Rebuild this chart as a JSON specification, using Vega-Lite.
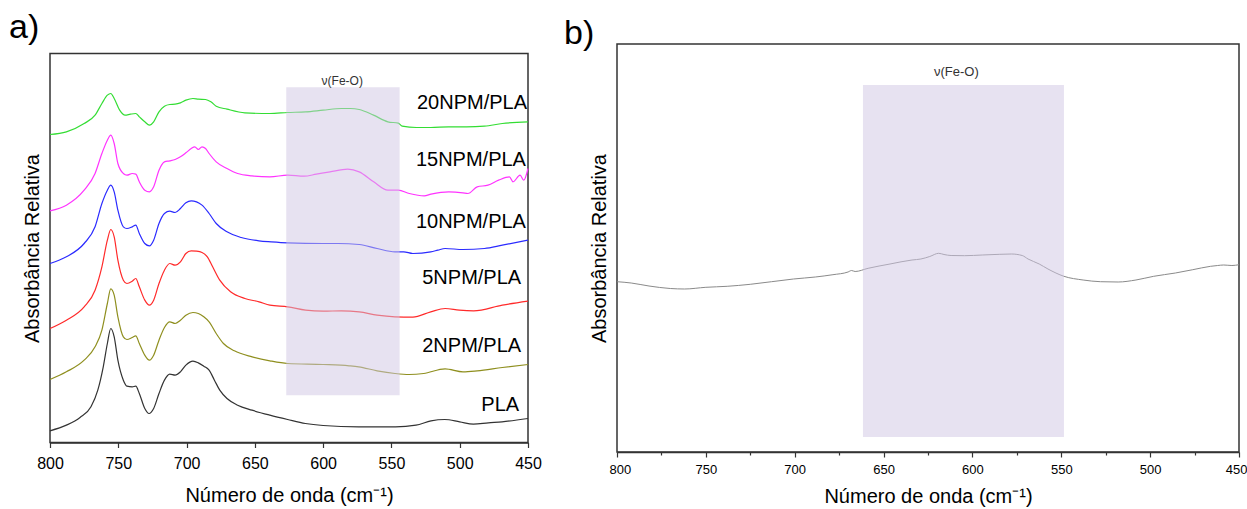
{
  "$schema": "https://vega.github.io/schema/vega-lite/v6.json",
  "padding": {"left": 8, "top": 9, "right": 0, "bottom": 0},
  "background": "white",
  "spacing": 89,
  "bounds": "flush",
  "center": true,
  "datasets": {
    "specA": [
      {"s":"PLA","x":800,"y":0.035},{"s":"PLA","x":788,"y":0.052},{"s":"PLA","x":778,"y":0.075},{"s":"PLA","x":770,"y":0.107},{"s":"PLA","x":765,"y":0.157},{"s":"PLA","x":761,"y":0.227},{"s":"PLA","x":758,"y":0.297},{"s":"PLA","x":755.5,"y":0.342},{"s":"PLA","x":753,"y":0.317},{"s":"PLA","x":750.3,"y":0.247},{"s":"PLA","x":746.3,"y":0.187},{"s":"PLA","x":743.7,"y":0.169},{"s":"PLA","x":739.8,"y":0.167},{"s":"PLA","x":737.2,"y":0.169},{"s":"PLA","x":734.6,"y":0.147},{"s":"PLA","x":730.6,"y":0.102},{"s":"PLA","x":727.5,"y":0.087},{"s":"PLA","x":724.1,"y":0.102},{"s":"PLA","x":720.2,"y":0.147},{"s":"PLA","x":716.2,"y":0.187},{"s":"PLA","x":712.3,"y":0.205},{"s":"PLA","x":708.4,"y":0.202},{"s":"PLA","x":704.5,"y":0.212},{"s":"PLA","x":700.5,"y":0.232},{"s":"PLA","x":695.3,"y":0.244},{"s":"PLA","x":691.4,"y":0.239},{"s":"PLA","x":687.4,"y":0.229},{"s":"PLA","x":683.5,"y":0.217},{"s":"PLA","x":679.6,"y":0.187},{"s":"PLA","x":675.7,"y":0.157},{"s":"PLA","x":670.4,"y":0.132},{"s":"PLA","x":662.6,"y":0.112},{"s":"PLA","x":652.1,"y":0.097},{"s":"PLA","x":639,"y":0.082},{"s":"PLA","x":626,"y":0.069},{"s":"PLA","x":613,"y":0.057},{"s":"PLA","x":600,"y":0.051},{"s":"PLA","x":574,"y":0.047},{"s":"PLA","x":547,"y":0.047},{"s":"PLA","x":532,"y":0.052},{"s":"PLA","x":521,"y":0.065},{"s":"PLA","x":511,"y":0.069},{"s":"PLA","x":500,"y":0.062},{"s":"PLA","x":490,"y":0.055},{"s":"PLA","x":479,"y":0.059},{"s":"PLA","x":469,"y":0.062},{"s":"PLA","x":450,"y":0.072},
      {"s":"2NPM/PLA","x":800,"y":0.189},{"s":"2NPM/PLA","x":788,"y":0.212},{"s":"2NPM/PLA","x":775,"y":0.247},{"s":"2NPM/PLA","x":767,"y":0.287},{"s":"2NPM/PLA","x":762,"y":0.337},{"s":"2NPM/PLA","x":758,"y":0.417},{"s":"2NPM/PLA","x":755.5,"y":0.461},{"s":"2NPM/PLA","x":753,"y":0.442},{"s":"2NPM/PLA","x":750.3,"y":0.377},{"s":"2NPM/PLA","x":746.3,"y":0.317},{"s":"2NPM/PLA","x":743.7,"y":0.309},{"s":"2NPM/PLA","x":739.8,"y":0.315},{"s":"2NPM/PLA","x":737.2,"y":0.32},{"s":"2NPM/PLA","x":734.6,"y":0.297},{"s":"2NPM/PLA","x":730.6,"y":0.262},{"s":"2NPM/PLA","x":727.2,"y":0.247},{"s":"2NPM/PLA","x":724.1,"y":0.262},{"s":"2NPM/PLA","x":720.2,"y":0.307},{"s":"2NPM/PLA","x":716.2,"y":0.345},{"s":"2NPM/PLA","x":712.3,"y":0.362},{"s":"2NPM/PLA","x":708.4,"y":0.357},{"s":"2NPM/PLA","x":704.5,"y":0.367},{"s":"2NPM/PLA","x":700.5,"y":0.382},{"s":"2NPM/PLA","x":695.3,"y":0.39},{"s":"2NPM/PLA","x":691.4,"y":0.387},{"s":"2NPM/PLA","x":687.4,"y":0.377},{"s":"2NPM/PLA","x":683.5,"y":0.362},{"s":"2NPM/PLA","x":678.3,"y":0.327},{"s":"2NPM/PLA","x":673,"y":0.297},{"s":"2NPM/PLA","x":665,"y":0.275},{"s":"2NPM/PLA","x":652,"y":0.257},{"s":"2NPM/PLA","x":639,"y":0.245},{"s":"2NPM/PLA","x":626,"y":0.237},{"s":"2NPM/PLA","x":600,"y":0.234},{"s":"2NPM/PLA","x":581,"y":0.23},{"s":"2NPM/PLA","x":574,"y":0.227},{"s":"2NPM/PLA","x":560.5,"y":0.215},{"s":"2NPM/PLA","x":547.4,"y":0.207},{"s":"2NPM/PLA","x":537,"y":0.204},{"s":"2NPM/PLA","x":526.4,"y":0.207},{"s":"2NPM/PLA","x":510.7,"y":0.221},{"s":"2NPM/PLA","x":497.6,"y":0.212},{"s":"2NPM/PLA","x":487.2,"y":0.215},{"s":"2NPM/PLA","x":468.8,"y":0.225},{"s":"2NPM/PLA","x":450,"y":0.234},
      {"s":"5NPM/PLA","x":800,"y":0.342},{"s":"5NPM/PLA","x":788,"y":0.367},{"s":"5NPM/PLA","x":775,"y":0.407},{"s":"5NPM/PLA","x":767,"y":0.457},{"s":"5NPM/PLA","x":762,"y":0.527},{"s":"5NPM/PLA","x":758,"y":0.607},{"s":"5NPM/PLA","x":755.5,"y":0.639},{"s":"5NPM/PLA","x":753,"y":0.617},{"s":"5NPM/PLA","x":750.3,"y":0.547},{"s":"5NPM/PLA","x":746.3,"y":0.487},{"s":"5NPM/PLA","x":743.7,"y":0.477},{"s":"5NPM/PLA","x":739.8,"y":0.484},{"s":"5NPM/PLA","x":737.2,"y":0.492},{"s":"5NPM/PLA","x":734.6,"y":0.467},{"s":"5NPM/PLA","x":730.6,"y":0.427},{"s":"5NPM/PLA","x":727.2,"y":0.412},{"s":"5NPM/PLA","x":724.1,"y":0.427},{"s":"5NPM/PLA","x":720.2,"y":0.477},{"s":"5NPM/PLA","x":716.2,"y":0.517},{"s":"5NPM/PLA","x":712.3,"y":0.537},{"s":"5NPM/PLA","x":708.4,"y":0.532},{"s":"5NPM/PLA","x":704.5,"y":0.542},{"s":"5NPM/PLA","x":700.5,"y":0.567},{"s":"5NPM/PLA","x":696.6,"y":0.575},{"s":"5NPM/PLA","x":692.7,"y":0.574},{"s":"5NPM/PLA","x":688.7,"y":0.57},{"s":"5NPM/PLA","x":684.8,"y":0.557},{"s":"5NPM/PLA","x":680.9,"y":0.527},{"s":"5NPM/PLA","x":675.7,"y":0.487},{"s":"5NPM/PLA","x":667.8,"y":0.452},{"s":"5NPM/PLA","x":657.3,"y":0.432},{"s":"5NPM/PLA","x":646.9,"y":0.422},{"s":"5NPM/PLA","x":639,"y":0.412},{"s":"5NPM/PLA","x":626,"y":0.407},{"s":"5NPM/PLA","x":612.8,"y":0.397},{"s":"5NPM/PLA","x":600,"y":0.394},{"s":"5NPM/PLA","x":586.6,"y":0.395},{"s":"5NPM/PLA","x":573.6,"y":0.392},{"s":"5NPM/PLA","x":560.5,"y":0.382},{"s":"5NPM/PLA","x":547.4,"y":0.377},{"s":"5NPM/PLA","x":534.3,"y":0.376},{"s":"5NPM/PLA","x":521.2,"y":0.392},{"s":"5NPM/PLA","x":510.7,"y":0.402},{"s":"5NPM/PLA","x":500.3,"y":0.397},{"s":"5NPM/PLA","x":489.8,"y":0.395},{"s":"5NPM/PLA","x":468.8,"y":0.412},{"s":"5NPM/PLA","x":450,"y":0.424},
      {"s":"10NPM/PLA","x":800,"y":0.537},{"s":"10NPM/PLA","x":788,"y":0.557},{"s":"10NPM/PLA","x":775,"y":0.597},{"s":"10NPM/PLA","x":767,"y":0.647},{"s":"10NPM/PLA","x":762,"y":0.717},{"s":"10NPM/PLA","x":758,"y":0.757},{"s":"10NPM/PLA","x":755.5,"y":0.772},{"s":"10NPM/PLA","x":753,"y":0.752},{"s":"10NPM/PLA","x":750.3,"y":0.697},{"s":"10NPM/PLA","x":746.3,"y":0.647},{"s":"10NPM/PLA","x":743.7,"y":0.642},{"s":"10NPM/PLA","x":739.8,"y":0.647},{"s":"10NPM/PLA","x":737.2,"y":0.652},{"s":"10NPM/PLA","x":734.6,"y":0.627},{"s":"10NPM/PLA","x":730.6,"y":0.597},{"s":"10NPM/PLA","x":727.2,"y":0.59},{"s":"10NPM/PLA","x":724.1,"y":0.607},{"s":"10NPM/PLA","x":720.2,"y":0.657},{"s":"10NPM/PLA","x":716.2,"y":0.687},{"s":"10NPM/PLA","x":712.3,"y":0.694},{"s":"10NPM/PLA","x":708.4,"y":0.69},{"s":"10NPM/PLA","x":704.5,"y":0.702},{"s":"10NPM/PLA","x":700.5,"y":0.719},{"s":"10NPM/PLA","x":696.6,"y":0.725},{"s":"10NPM/PLA","x":692.7,"y":0.722},{"s":"10NPM/PLA","x":688.7,"y":0.712},{"s":"10NPM/PLA","x":683.5,"y":0.687},{"s":"10NPM/PLA","x":678.3,"y":0.657},{"s":"10NPM/PLA","x":670.4,"y":0.632},{"s":"10NPM/PLA","x":660,"y":0.615},{"s":"10NPM/PLA","x":647,"y":0.605},{"s":"10NPM/PLA","x":638,"y":0.602},{"s":"10NPM/PLA","x":626,"y":0.599},{"s":"10NPM/PLA","x":600,"y":0.597},{"s":"10NPM/PLA","x":589,"y":0.597},{"s":"10NPM/PLA","x":573.6,"y":0.594},{"s":"10NPM/PLA","x":560.5,"y":0.582},{"s":"10NPM/PLA","x":547.4,"y":0.572},{"s":"10NPM/PLA","x":541,"y":0.572},{"s":"10NPM/PLA","x":534.3,"y":0.567},{"s":"10NPM/PLA","x":521.2,"y":0.572},{"s":"10NPM/PLA","x":516,"y":0.577},{"s":"10NPM/PLA","x":510.7,"y":0.582},{"s":"10NPM/PLA","x":497.6,"y":0.579},{"s":"10NPM/PLA","x":481.9,"y":0.582},{"s":"10NPM/PLA","x":468.8,"y":0.592},{"s":"10NPM/PLA","x":450,"y":0.607},
      {"s":"15NPM/PLA","x":800,"y":0.695},{"s":"15NPM/PLA","x":788,"y":0.712},{"s":"15NPM/PLA","x":775,"y":0.757},{"s":"15NPM/PLA","x":767,"y":0.807},{"s":"15NPM/PLA","x":762,"y":0.867},{"s":"15NPM/PLA","x":758,"y":0.907},{"s":"15NPM/PLA","x":755.5,"y":0.922},{"s":"15NPM/PLA","x":753,"y":0.897},{"s":"15NPM/PLA","x":750.3,"y":0.837},{"s":"15NPM/PLA","x":746.3,"y":0.807},{"s":"15NPM/PLA","x":743.7,"y":0.802},{"s":"15NPM/PLA","x":739.8,"y":0.807},{"s":"15NPM/PLA","x":737.2,"y":0.805},{"s":"15NPM/PLA","x":734.6,"y":0.782},{"s":"15NPM/PLA","x":730.6,"y":0.757},{"s":"15NPM/PLA","x":727.2,"y":0.752},{"s":"15NPM/PLA","x":724.1,"y":0.767},{"s":"15NPM/PLA","x":720.2,"y":0.817},{"s":"15NPM/PLA","x":716.2,"y":0.842},{"s":"15NPM/PLA","x":712.3,"y":0.845},{"s":"15NPM/PLA","x":708.4,"y":0.849},{"s":"15NPM/PLA","x":704.5,"y":0.857},{"s":"15NPM/PLA","x":700.5,"y":0.869},{"s":"15NPM/PLA","x":696.6,"y":0.882},{"s":"15NPM/PLA","x":694,"y":0.887},{"s":"15NPM/PLA","x":691.4,"y":0.879},{"s":"15NPM/PLA","x":688.7,"y":0.887},{"s":"15NPM/PLA","x":686.1,"y":0.882},{"s":"15NPM/PLA","x":683.5,"y":0.867},{"s":"15NPM/PLA","x":678.3,"y":0.842},{"s":"15NPM/PLA","x":670.4,"y":0.822},{"s":"15NPM/PLA","x":662.6,"y":0.807},{"s":"15NPM/PLA","x":652.1,"y":0.8},{"s":"15NPM/PLA","x":639,"y":0.797},{"s":"15NPM/PLA","x":626,"y":0.802},{"s":"15NPM/PLA","x":614,"y":0.799},{"s":"15NPM/PLA","x":605,"y":0.805},{"s":"15NPM/PLA","x":595,"y":0.812},{"s":"15NPM/PLA","x":582,"y":0.82},{"s":"15NPM/PLA","x":573.6,"y":0.812},{"s":"15NPM/PLA","x":563,"y":0.782},{"s":"15NPM/PLA","x":552.6,"y":0.757},{"s":"15NPM/PLA","x":545,"y":0.757},{"s":"15NPM/PLA","x":536.9,"y":0.747},{"s":"15NPM/PLA","x":526,"y":0.74},{"s":"15NPM/PLA","x":521,"y":0.745},{"s":"15NPM/PLA","x":508,"y":0.752},{"s":"15NPM/PLA","x":497.6,"y":0.749},{"s":"15NPM/PLA","x":494,"y":0.747},{"s":"15NPM/PLA","x":487.2,"y":0.767},{"s":"15NPM/PLA","x":479.3,"y":0.772},{"s":"15NPM/PLA","x":471.5,"y":0.787},{"s":"15NPM/PLA","x":463.6,"y":0.797},{"s":"15NPM/PLA","x":461,"y":0.782},{"s":"15NPM/PLA","x":455.8,"y":0.802},{"s":"15NPM/PLA","x":453.1,"y":0.787},{"s":"15NPM/PLA","x":450,"y":0.822},
      {"s":"20NPM/PLA","x":800,"y":0.924},{"s":"20NPM/PLA","x":788,"y":0.932},{"s":"20NPM/PLA","x":775,"y":0.957},{"s":"20NPM/PLA","x":767,"y":0.982},{"s":"20NPM/PLA","x":762,"y":1.017},{"s":"20NPM/PLA","x":758,"y":1.042},{"s":"20NPM/PLA","x":755.5,"y":1.047},{"s":"20NPM/PLA","x":753,"y":1.032},{"s":"20NPM/PLA","x":749,"y":0.997},{"s":"20NPM/PLA","x":745,"y":0.982},{"s":"20NPM/PLA","x":741.1,"y":0.985},{"s":"20NPM/PLA","x":737.2,"y":0.987},{"s":"20NPM/PLA","x":734.6,"y":0.977},{"s":"20NPM/PLA","x":730.6,"y":0.962},{"s":"20NPM/PLA","x":727.2,"y":0.952},{"s":"20NPM/PLA","x":724.1,"y":0.962},{"s":"20NPM/PLA","x":720.2,"y":0.992},{"s":"20NPM/PLA","x":716.2,"y":1.009},{"s":"20NPM/PLA","x":712.3,"y":1.014},{"s":"20NPM/PLA","x":708.4,"y":1.015},{"s":"20NPM/PLA","x":704.5,"y":1.019},{"s":"20NPM/PLA","x":700.5,"y":1.027},{"s":"20NPM/PLA","x":695.3,"y":1.032},{"s":"20NPM/PLA","x":691.4,"y":1.03},{"s":"20NPM/PLA","x":686.1,"y":1.029},{"s":"20NPM/PLA","x":682.2,"y":1.022},{"s":"20NPM/PLA","x":678.3,"y":1.009},{"s":"20NPM/PLA","x":670.4,"y":1.0},{"s":"20NPM/PLA","x":657.3,"y":0.989},{"s":"20NPM/PLA","x":639,"y":0.987},{"s":"20NPM/PLA","x":626,"y":0.99},{"s":"20NPM/PLA","x":612.8,"y":0.992},{"s":"20NPM/PLA","x":600,"y":0.997},{"s":"20NPM/PLA","x":586.6,"y":1.002},{"s":"20NPM/PLA","x":580,"y":1.002},{"s":"20NPM/PLA","x":573.6,"y":0.999},{"s":"20NPM/PLA","x":563.1,"y":0.982},{"s":"20NPM/PLA","x":552.6,"y":0.962},{"s":"20NPM/PLA","x":545,"y":0.958},{"s":"20NPM/PLA","x":542.1,"y":0.949},{"s":"20NPM/PLA","x":531.7,"y":0.945},{"s":"20NPM/PLA","x":521.2,"y":0.945},{"s":"20NPM/PLA","x":508.1,"y":0.947},{"s":"20NPM/PLA","x":495,"y":0.947},{"s":"20NPM/PLA","x":481.9,"y":0.949},{"s":"20NPM/PLA","x":468.8,"y":0.957},{"s":"20NPM/PLA","x":450,"y":0.962}
    ],
    "labelsA": [
      {"label":"20NPM/PLA","x":450.7,"y":1.018},
      {"label":"15NPM/PLA","x":451.5,"y":0.847},
      {"label":"10NPM/PLA","x":451.5,"y":0.661},
      {"label":"5NPM/PLA","x":455,"y":0.493},
      {"label":"2NPM/PLA","x":455,"y":0.289},
      {"label":"PLA","x":456.5,"y":0.112}
    ],
    "bandA": [{"x1":627,"x2":544,"y1":0.142,"y2":1.066}],
    "noteA": [{"t":"ν(Fe-O)","x":586,"y":1.084}],
    "specB": [
      {"x":800,"y":1.703},{"x":792,"y":1.69},{"x":782,"y":1.66},{"x":770,"y":1.635},{"x":762,"y":1.63},{"x":750,"y":1.647},{"x":738,"y":1.657},{"x":725,"y":1.677},{"x":713,"y":1.703},{"x":700.7,"y":1.73},{"x":688.4,"y":1.75},{"x":678.5,"y":1.773},{"x":670,"y":1.8},{"x":668,"y":1.815},{"x":666,"y":1.805},{"x":658.7,"y":1.837},{"x":646.4,"y":1.88},{"x":634,"y":1.92},{"x":629,"y":1.93},{"x":624,"y":1.955},{"x":619,"y":1.987},{"x":616,"y":1.975},{"x":612,"y":1.965},{"x":604.4,"y":1.963},{"x":594.5,"y":1.97},{"x":584.6,"y":1.977},{"x":578,"y":1.98},{"x":572,"y":1.965},{"x":568.7,"y":1.93},{"x":562.4,"y":1.88},{"x":557.5,"y":1.83},{"x":548.5,"y":1.757},{"x":537.7,"y":1.72},{"x":528,"y":1.703},{"x":518,"y":1.7},{"x":508,"y":1.72},{"x":498,"y":1.757},{"x":485.8,"y":1.79},{"x":476,"y":1.823},{"x":466,"y":1.857},{"x":462,"y":1.865},{"x":458.6,"y":1.87},{"x":454,"y":1.865},{"x":450,"y":1.873}
    ],
    "bandB": [{"x1":661.6,"x2":548.5,"y1":0.15,"y2":3.67}],
    "noteB": [{"t":"ν(Fe-O)","x":609,"y":3.8}]
  },
  "hconcat": [
    {
      "title": {"text": "a)", "anchor": "start", "frame": "group", "dx": -41, "offset": -18, "baseline": "alphabetic", "fontSize": 34, "fontWeight": "normal", "font": "Liberation Sans", "color": "#000"},
      "width": 478,
      "height": 389,
      "layer": [
        {
          "data": {"name": "specA"},
          "mark": {"type": "line", "strokeWidth": 1.2, "interpolate": "monotone"},
          "encoding": {
            "x": {"field": "x", "type": "quantitative",
              "scale": {"domain": [450, 800], "reverse": true, "nice": false, "zero": false},
              "axis": {"title": "Número de onda (cm⁻¹)", "values": [800,775,750,725,700,675,650,625,600,575,550,525,500,475,450],
                "labelExpr": "datum.value % 50 === 0 ? datum.label : ''",
                "tickSize": {"condition": {"test": "datum.value % 50 === 0", "value": 5}, "value": 3},
                "labelFontSize": 16, "labelPadding": 8, "titleFontSize": 20, "titlePadding": 14, "labelOverlap": false, "labelFlush": false}},
            "y": {"field": "y", "type": "quantitative",
              "scale": {"domain": [0, 1.167], "nice": false, "zero": false},
              "axis": {"title": "Absorbância Relativa", "labels": false, "ticks": false, "domain": false, "titleFontSize": 20, "titlePadding": 8}},
            "color": {"field": "s", "type": "nominal", "legend": null,
              "scale": {"domain": ["PLA","2NPM/PLA","5NPM/PLA","10NPM/PLA","15NPM/PLA","20NPM/PLA"],
                        "range": ["#333333","#8f8f1f","#ff2a2a","#2a2aff","#ff33ff","#33dd33"]}}
          }
        },
        {
          "data": {"name": "bandA"},
          "mark": {"type": "rect", "color": "#cfc6e3", "opacity": 0.5},
          "encoding": {
            "x": {"field": "x1", "type": "quantitative"},
            "x2": {"field": "x2"},
            "y": {"field": "y1", "type": "quantitative"},
            "y2": {"field": "y2"}
          }
        },
        {
          "data": {"name": "labelsA"},
          "mark": {"type": "text", "align": "right", "baseline": "middle", "fontSize": 20, "color": "#000"},
          "encoding": {
            "x": {"field": "x", "type": "quantitative"},
            "y": {"field": "y", "type": "quantitative"},
            "text": {"field": "label", "type": "nominal"}
          }
        },
        {
          "data": {"name": "noteA"},
          "mark": {"type": "text", "align": "center", "baseline": "middle", "fontSize": 12, "color": "#333"},
          "encoding": {
            "x": {"field": "x", "type": "quantitative"},
            "y": {"field": "y", "type": "quantitative"},
            "text": {"field": "t", "type": "nominal"}
          }
        }
      ]
    },
    {
      "title": {"text": "b)", "anchor": "start", "frame": "group", "dx": -53, "offset": -34, "baseline": "alphabetic", "fontSize": 34, "fontWeight": "normal", "font": "Liberation Sans", "color": "#000"},
      "width": 622,
      "height": 408,
      "layer": [
        {
          "data": {"name": "specB"},
          "mark": {"type": "line", "strokeWidth": 1, "color": "#8a8a8a", "interpolate": "monotone"},
          "encoding": {
            "x": {"field": "x", "type": "quantitative",
              "scale": {"domain": [450, 800], "reverse": true, "nice": false, "zero": false},
              "axis": {"title": "Número de onda (cm⁻¹)", "values": [800,775,750,725,700,675,650,625,600,575,550,525,500,475,450],
                "labelExpr": "datum.value % 50 === 0 ? datum.label : ''",
                "tickSize": {"condition": {"test": "datum.value % 50 === 0", "value": 5}, "value": 3},
                "labelFontSize": 13, "labelPadding": 6, "titleFontSize": 20, "titlePadding": 10, "labelOverlap": false,
                "labelFlush": true, "labelFlushOffset": 8}},
            "y": {"field": "y", "type": "quantitative",
              "scale": {"domain": [0, 4.08], "nice": false, "zero": false},
              "axis": {"title": "Absorbância Relativa", "labels": false, "ticks": false, "domain": false, "titleFontSize": 20, "titlePadding": 8}}
          }
        },
        {
          "data": {"name": "bandB"},
          "mark": {"type": "rect", "color": "#cfc6e3", "opacity": 0.5},
          "encoding": {
            "x": {"field": "x1", "type": "quantitative"},
            "x2": {"field": "x2"},
            "y": {"field": "y1", "type": "quantitative"},
            "y2": {"field": "y2"}
          }
        },
        {
          "data": {"name": "noteB"},
          "mark": {"type": "text", "align": "center", "baseline": "middle", "fontSize": 13, "color": "#333"},
          "encoding": {
            "x": {"field": "x", "type": "quantitative"},
            "y": {"field": "y", "type": "quantitative"},
            "text": {"field": "t", "type": "nominal"}
          }
        }
      ]
    }
  ],
  "config": {
    "font": "Liberation Sans",
    "view": {"stroke": "#333333", "strokeWidth": 1.5},
    "axis": {"grid": false, "domainColor": "#333333", "domainWidth": 1.5, "tickColor": "#333333", "tickWidth": 1.2,
             "labelColor": "#000000", "titleColor": "#000000", "titleFontWeight": "normal",
             "labelFont": "Liberation Sans", "titleFont": "Liberation Sans"},
    "text": {"font": "Liberation Sans"}
  }
}
